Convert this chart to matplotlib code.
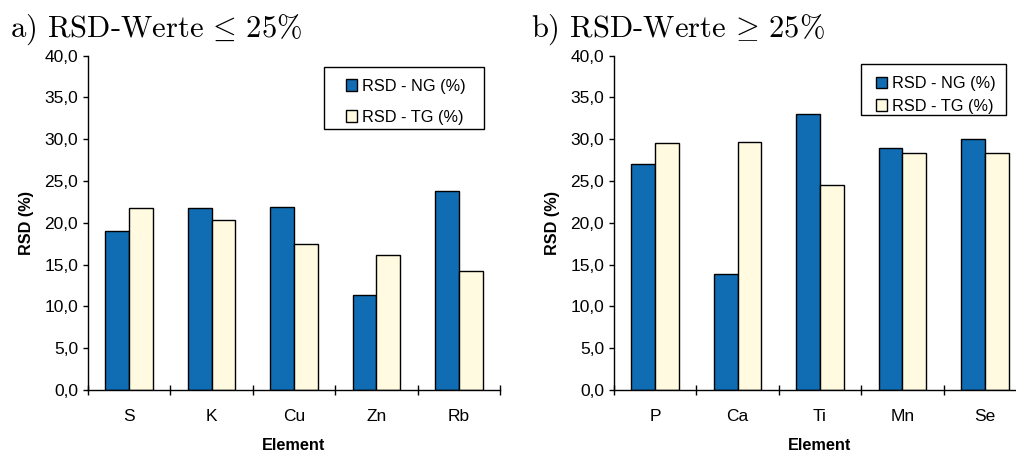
import matplotlib
matplotlib.use('Agg')
import matplotlib.pyplot as plt
from matplotlib.patches import Rectangle
import numpy as np

plt.rcParams['font.family'] = ['Liberation Sans', 'DejaVu Sans']
plt.rcParams['mathtext.fontset'] = 'cm'

# ---- data ----
elements_a = ['S', 'K', 'Cu', 'Zn', 'Rb']
ng_a = [19.0, 21.8, 21.9, 11.4, 23.8]
tg_a = [21.8, 20.4, 17.5, 16.2, 14.2]

elements_b = ['P', 'Ca', 'Ti', 'Mn', 'Se']
ng_b = [27.0, 13.9, 33.0, 29.0, 30.0]
tg_b = [29.6, 29.7, 24.5, 28.3, 28.3]

y_ticks = [0, 5, 10, 15, 20, 25, 30, 35, 40]
y_tick_labels = ['0,0', '5,0', '10,0', '15,0', '20,0', '25,0', '30,0', '35,0', '40,0']
series_labels = ['RSD - NG (%)', 'RSD - TG (%)']
titles = [r'a) RSD-Werte$\,\leq\,$25%', r'b) RSD-Werte$\,\geq\,$25%']
x_label = 'Element'
y_label = 'RSD (%)'

# ---- style ----
W, H = 1016, 453
blue = '#106db4'
cream = '#fffae0'
fs = 11.7
fs_tick = 12.5

fig = plt.figure(figsize=(W / 100, H / 100), dpi=100)

def make_panel(left_px, elements, ng, tg, frame_box, handle_xy, labelspacing):
    ax = fig.add_axes([left_px / W, 63 / H, 412 / W, 334.3 / H])
    x = np.arange(len(elements))
    w = 0.29
    b1 = ax.bar(x - w / 2, ng, w, color=blue, edgecolor='black', linewidth=1.0, label=series_labels[0])
    b2 = ax.bar(x + w / 2, tg, w, color=cream, edgecolor='black', linewidth=1.0, label=series_labels[1])
    ax.set_xlim(-0.5, len(elements) - 0.5)
    ax.set_ylim(0, 40)
    for s in ('top', 'right'):
        ax.spines[s].set_visible(False)
    for s in ('left', 'bottom'):
        ax.spines[s].set_linewidth(1.0)
        ax.spines[s].set_color('black')
    ax.set_xticks(x)
    ax.set_xticklabels(elements, fontsize=fs_tick)
    ax.set_xticks(np.arange(-0.5, len(elements), 1.0), minor=True)
    ax.tick_params(axis='x', which='major', length=0, pad=14)
    ax.tick_params(axis='x', which='minor', direction='inout', length=7, width=1)
    ax.set_yticks(y_ticks)
    ax.set_yticklabels(y_tick_labels, fontsize=fs_tick)
    ax.tick_params(axis='y', direction='out', length=3.6, width=1, pad=3.6)
    ax.set_xlabel(x_label, fontsize=fs, fontweight='bold', labelpad=10)
    ax.set_ylabel(y_label, fontsize=fs, fontweight='bold', labelpad=7)
    # legend frame drawn separately (Excel style)
    x0, y0, x1, y1 = frame_box
    fig.patches.append(Rectangle((x0 / W, 1 - y1 / H), (x1 - x0) / W, (y1 - y0) / H,
                                 transform=fig.transFigure, facecolor='white',
                                 edgecolor='black', linewidth=1.0, zorder=5))
    hx, hy = handle_xy
    leg = fig.legend(handles=[b1, b2], loc='upper left',
                     bbox_to_anchor=(hx / W, 1 - hy / H), bbox_transform=fig.transFigure,
                     borderaxespad=0, borderpad=0, frameon=False, fontsize=fs,
                     handlelength=0.7, handleheight=0.7, handletextpad=0.3,
                     labelspacing=labelspacing)
    leg.set_zorder(6)
    return ax

axA = make_panel(88, elements_a, ng_a, tg_a, (324, 66.7, 484, 129.3), (346, 78.5), 1.0)
axB = make_panel(614, elements_b, ng_b, tg_b, (861, 64, 1006, 115), (876, 76), 0.48)

fig.text(10 / W, 1 - 37 / H, titles[0], family=['cmr10', 'DejaVu Serif'], fontsize=22, va='baseline', ha='left')
fig.text(531 / W, 1 - 37 / H, titles[1], family=['cmr10', 'DejaVu Serif'], fontsize=22, va='baseline', ha='left')

fig.savefig('out.png', dpi=100)
